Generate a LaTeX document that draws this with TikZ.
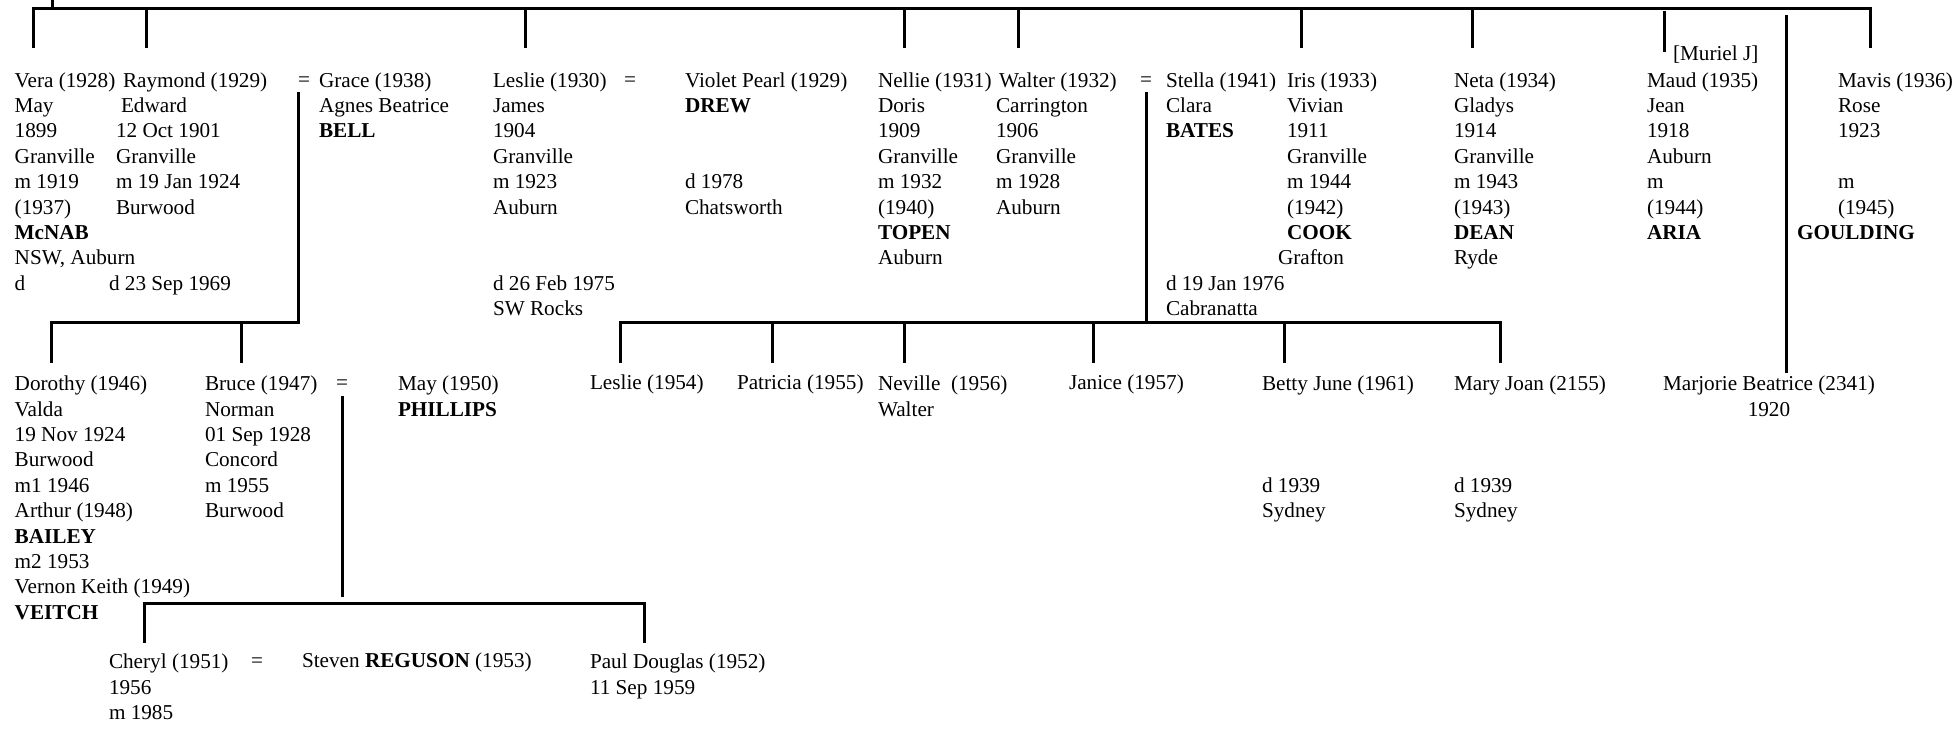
\documentclass[tikz,border=0pt]{standalone}
\usepackage{fontspec}
\setmainfont{Liberation Serif}
\usetikzlibrary{calc}
\tikzset{per/.style={anchor=north west,align=left,inner sep=0pt,outer sep=0pt,execute at begin node=\strut},
 multi/.style={per,yshift=-2pt},
 eq/.style={anchor=north,inner sep=0pt,outer sep=0pt,execute at begin node=\strut},
 tree/.style={line width=1.5pt,line cap=rect},
 every node/.style={font=\fontsize{10.6pt}{12.7pt}\selectfont}}

\begin{document}
\begin{tikzpicture}[x=0.5pt,y=-0.5pt]
\useasboundingbox (0,0) rectangle (1960,731);
% first generation
\node[multi] (vera) at (14.7,68.3) {Vera (1928)\\May\\1899\\Granville\\m 1919\\(1937)\\\textbf{McNAB}\\NSW, Auburn\\d};
\node[multi] (raymond) at (116,68.3) {\hspace{3.5pt}Raymond (1929)\\\hspace{2.5pt}Edward\\12 Oct 1901\\Granville\\m 19 Jan 1924\\Burwood\\ \\ \\\hspace{-3.5pt}d 23 Sep 1969};
\node[eq] (eqgrace) at (304,68.3) {=};
\node[multi] (grace) at (319,68.3) {Grace (1938)\\Agnes Beatrice\\\textbf{BELL}};
\node[multi] (leslie) at (493,68.3) {Leslie (1930)\\James\\1904\\Granville\\m 1923\\Auburn\\ \\ \\d 26 Feb 1975\\SW Rocks};
\node[eq] (eqleslie) at (630,68.3) {=};
\node[multi] (violet) at (685,68.3) {Violet Pearl (1929)\\\textbf{DREW}\\ \\ \\d 1978\\Chatsworth};
\node[multi] (nellie) at (878,68.3) {Nellie (1931)\\Doris\\1909\\Granville\\m 1932\\(1940)\\\textbf{TOPEN}\\Auburn};
\node[multi] (walter) at (996,68.3) {\hspace{1.5pt}Walter (1932)\\Carrington\\1906\\Granville\\m 1928\\Auburn};
\node[eq] (eqwalter) at (1146,68.3) {=};
\node[multi] (stella) at (1166,68.3) {Stella (1941)\\Clara\\\textbf{BATES}\\ \\ \\ \\ \\ \\d 19 Jan 1976\\Cabranatta};
\node[multi] (iris) at (1287,68.3) {Iris (1933)\\Vivian\\1911\\Granville\\m 1944\\(1942)\\\textbf{COOK}\\\hspace{-4.5pt}Grafton};
\node[multi] (neta) at (1454,68.3) {Neta (1934)\\Gladys\\1914\\Granville\\m 1943\\(1943)\\\textbf{DEAN}\\Ryde};
\node[per] (muriel) at (1673,43) {[Muriel J]};
\node[multi] (maud) at (1647,68.3) {Maud (1935)\\Jean\\1918\\Auburn\\m\\(1944)\\\textbf{ARIA}};
\node[multi] (mavis) at (1838,68.3) {Mavis (1936)\\Rose\\1923\\ \\m\\(1945)\\\hspace{-20.5pt}\textbf{GOULDING}};
% second generation
\node[multi] (dorothy) at (14.7,371.9) {Dorothy (1946)\\Valda\\19 Nov 1924\\Burwood\\m1 1946\\Arthur (1948)\\\textbf{BAILEY}\\m2 1953\\Vernon Keith (1949)\\\textbf{VEITCH}};
\node[multi] (bruce) at (205,371.9) {Bruce (1947)\\Norman\\01 Sep 1928\\Concord\\m 1955\\Burwood};
\node[eq] (eqbruce) at (342,371.9) {=};
\node[multi] (may) at (398,371.9) {May (1950)\\\textbf{PHILLIPS}};
\node[per] (leslietwo) at (590,371.9) {Leslie (1954)};
\node[per] (patricia) at (737,371.9) {Patricia (1955)};
\node[multi] (neville) at (878,371.9) {Neville\ \ (1956)\\Walter};
\node[per] (janice) at (1069,371.9) {Janice (1957)};
\node[multi] (betty) at (1262,371.9) {Betty June (1961)\\ \\ \\ \\d 1939\\Sydney};
\node[multi] (maryjoan) at (1454,371.9) {Mary Joan (2155)\\ \\ \\ \\d 1939\\Sydney};
\node[multi,align=center] (marjorie) at (1663,371.9) {Marjorie Beatrice (2341)\\1920};
% third generation
\node[multi] (cheryl) at (109,650.2) {Cheryl (1951)\\1956\\m 1985};
\node[eq] (eqcheryl) at (257,650.2) {=};
\node[per] (steven) at (302,650.2) {Steven \textbf{REGUSON} (1953)};
\node[multi] (paul) at (590,650.2) {Paul Douglas (1952)\\11 Sep 1959};

% top rail
\coordinate (root) at (52,0);
\coordinate (top-l) at (33,9); \coordinate (top-r) at (1870,9);
\draw[tree] (root) -- (root |- top-l);
\draw[tree] (top-l) -- (top-r);
\foreach \c/\x in {vera/33,raymond/146,leslie/525,nellie/904,walter/1018,iris/1301,neta/1472,mavis/1870}{
  \coordinate (\c-up) at (\x,47);
  \draw[tree] (\c-up |- top-l) -- (\c-up);}
\coordinate (maud-top) at (1664,13); \coordinate (maud-up) at (1664,51);
\draw[tree] (maud-top) -- (maud-up);
\coordinate (marj-top) at (1786,17); \coordinate (marj-end) at (1786,372);
\draw[tree] (marj-top) -- (marj-end);

% Raymond = Grace
\coordinate (ray-l) at (51,323); \coordinate (ray-r) at (298,323);
\draw[tree] (ray-r |- eqgrace.south) -- (ray-r) -- (ray-l);
\foreach \c/\x in {dorothy/51,bruce/241}{
  \coordinate (\c-up) at (\x,362);
  \draw[tree] (\c-up |- ray-l) -- (\c-up);}

% Walter = Stella
\coordinate (wal-l) at (620,323); \coordinate (wal-r) at (1500,323);
\draw[tree] (eqwalter.south) -- (eqwalter.south |- wal-l);
\draw[tree] (wal-l) -- (wal-r);
\foreach \c/\x in {leslietwo/620,patricia/772,neville/904,janice/1093,betty/1284,maryjoan/1500}{
  \coordinate (\c-up) at (\x,362);
  \draw[tree] (\c-up |- wal-l) -- (\c-up);}

% Bruce = May
\coordinate (bru-stop) at (341,596);
\coordinate (bru-l) at (144,604); \coordinate (bru-r) at (644,604);
\draw[tree] (eqbruce.south) -- (eqbruce.south |- bru-stop);
\draw[tree] (bru-l) -- (bru-r);
\foreach \c/\x in {cheryl/144,paul/644}{
  \coordinate (\c-up) at (\x,642);
  \draw[tree] (\c-up |- bru-l) -- (\c-up);}
\end{tikzpicture}
\end{document}
